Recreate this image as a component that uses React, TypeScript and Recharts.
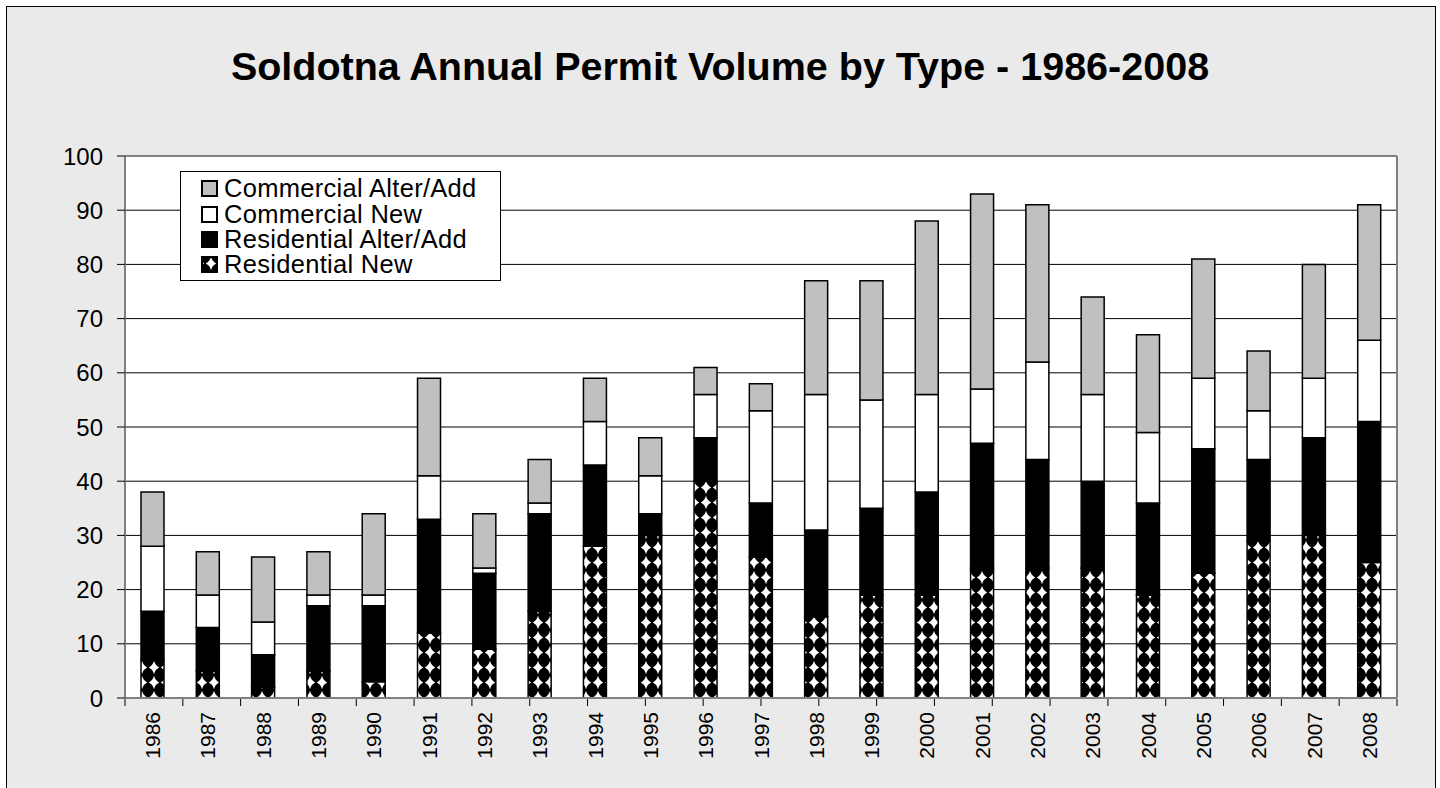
import { Bar, BarChart, CartesianGrid, Legend, XAxis, YAxis } from "recharts";

const years = [
    "1986", "1987", "1988", "1989", "1990", "1991", "1992", "1993", "1994", "1995", "1996", "1997",
    "1998", "1999", "2000", "2001", "2002", "2003", "2004", "2005", "2006", "2007", "2008",
];

const residentialNew = [7, 5, 2, 5, 3, 12, 9, 16, 28, 30, 40, 26, 15, 19, 19, 24, 24, 24, 19, 23, 29, 30, 25];
const residentialAlter = [9, 8, 6, 12, 14, 21, 14, 18, 15, 4, 8, 10, 16, 16, 19, 23, 20, 16, 17, 23, 15, 18, 26];
const commercialNew = [12, 6, 6, 2, 2, 8, 1, 2, 8, 7, 8, 17, 25, 20, 18, 10, 18, 16, 13, 13, 9, 11, 15];
const commercialAlter = [10, 8, 12, 8, 15, 18, 10, 8, 8, 7, 5, 5, 21, 22, 32, 36, 29, 18, 18, 22, 11, 21, 25];

const yTicks = [0, 10, 20, 30, 40, 50, 60, 70, 80, 90, 100];

const series = [
    { key: "resNew", name: "Residential New", fill: "url(#diamonds)" },
    { key: "resAlt", name: "Residential Alter/Add", fill: "#000000" },
    { key: "comNew", name: "Commercial New", fill: "#ffffff" },
    { key: "comAlt", name: "Commercial Alter/Add", fill: "#c0c0c0" },
];

const data = years.map((year, i) => ({
    year,
    resNew: residentialNew[i],
    resAlt: residentialAlter[i],
    comNew: commercialNew[i],
    comAlt: commercialAlter[i],
}));

// category boundaries, so the x ticks sit between the bars like Excel draws them
const edgeTicks = years.map((_, i) => i).concat(years.length);

const font = "Arial, 'Liberation Sans', sans-serif";

const renderYearTick = (props: any) => {
    const { x, y, payload } = props;
    return (
        <text
            key={payload.value}
            x={0}
            y={0}
            transform={`translate(${x + 7.5},${y + 6}) rotate(-90)`}
            textAnchor="end"
            fontSize={21}
            fontFamily={font}
            fill="#000"
        >
            {payload.value}
        </text>
    );
};

const LegendBox = () => (
    <div
        style={{
            border: "1px solid #000",
            background: "#fff",
            width: 299,
            height: 108,
            boxSizing: "content-box",
            padding: "0 0 0 20px",
            fontFamily: font,
            fontSize: 25.5,
            letterSpacing: 0.3,
            lineHeight: "25.4px",
            color: "#000",
            whiteSpace: "nowrap",
        }}
    >
        <div style={{ height: 4 }} />
        {[...series].reverse().map((s) => (
            <div key={s.key} style={{ display: "flex", alignItems: "center", height: 25.4 }}>
                <svg width={17} height={17} style={{ marginRight: 6, flexShrink: 0 }}>
                    <rect x={1} y={1} width={15} height={15} fill={s.fill} stroke="#000" strokeWidth={2} />
                </svg>
                <span style={{ lineHeight: "25px" }}>{s.name}</span>
            </div>
        ))}
    </div>
);

export default function App() {
    return (
        <div style={{ position: "absolute", left: 0, top: 0, width: 1440, height: 788, background: "#fff", overflow: "hidden" }}>
            <div
                style={{
                    position: "absolute",
                    left: 6,
                    top: 6,
                    width: 1428,
                    height: 800,
                    border: "1px solid #000",
                    background: "#eaeaea",
                }}
            />
            <div
                style={{
                    position: "absolute",
                    left: 0,
                    top: 44,
                    width: 1440,
                    textAlign: "center",
                    fontFamily: font,
                    fontWeight: "bold",
                    fontSize: 39.5,
                    lineHeight: "44px",
                    color: "#000",
                }}
            >
                Soldotna Annual Permit Volume by Type - 1986-2008
            </div>
            <div style={{ position: "absolute", left: 0, top: 0 }}>
                <BarChart
                    width={1440}
                    height={788}
                    data={data}
                    barSize={23}
                    margin={{ top: 155, right: 42, bottom: 88, left: 0 }}
                >
                    <defs>
                        <pattern id="diamonds" width={12} height={15} patternUnits="userSpaceOnUse" x={4} y={0}>
                            <rect width={12} height={15} fill="#000" />
                            <path d="M6 0.8 Q7.2 5.6 11.2 7.5 Q7.2 9.4 6 14.2 Q4.8 9.4 0.8 7.5 Q4.8 5.6 6 0.8 Z" fill="#fff" />
                        </pattern>
                    </defs>
                    <CartesianGrid vertical={false} stroke="#000" fill="#fff" />
                    <XAxis
                        dataKey="year"
                        interval={0}
                        height={1}
                        tickLine={false}
                        axisLine={{ stroke: "#808080", strokeWidth: 2 }}
                        tick={renderYearTick}
                    />
                    <XAxis
                        xAxisId="edges"
                        type="number"
                        domain={[0, years.length]}
                        ticks={edgeTicks}
                        height={1}
                        axisLine={false}
                        tickLine={{ stroke: "#000" }}
                        tickSize={7}
                        tickFormatter={() => ""}
                    />
                    <XAxis xAxisId="top" orientation="top" height={1} tick={false} tickLine={false} axisLine={{ stroke: "#808080", strokeWidth: 2 }} />
                    <YAxis
                        type="number"
                        domain={[0, 100]}
                        ticks={yTicks}
                        width={125}
                        tickSize={8}
                        tickMargin={14}
                        tickLine={{ stroke: "#000" }}
                        axisLine={{ stroke: "#808080", strokeWidth: 2 }}
                        tick={{ fontSize: 24, fontFamily: font, fill: "#000" }}
                    />
                    <YAxis yAxisId="right" orientation="right" width={1} domain={[0, 100]} tick={false} tickLine={false} axisLine={{ stroke: "#808080", strokeWidth: 2 }} />
                    <Legend
                        layout="horizontal"
                        verticalAlign="middle"
                        align="center"
                        content={<LegendBox />}
                        wrapperStyle={{ left: 180, top: 171, width: "auto" }}
                    />
                    {series.map((s) => (
                        <Bar
                            key={s.key}
                            dataKey={s.key}
                            name={s.name}
                            stackId="permits"
                            fill={s.fill}
                            stroke="#000"
                            strokeWidth={1.5}
                            isAnimationActive={false}
                        />
                    ))}
                </BarChart>
            </div>
        </div>
    );
}
